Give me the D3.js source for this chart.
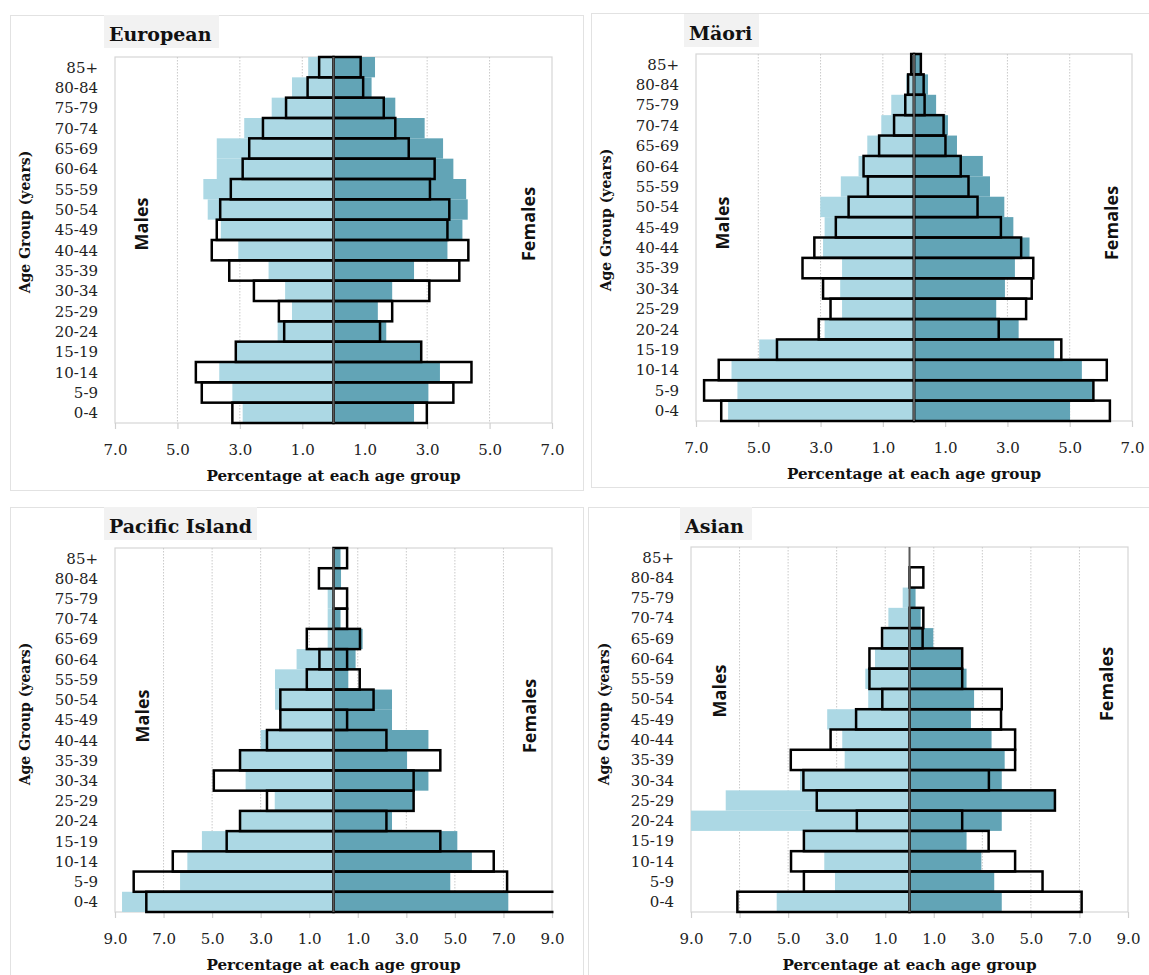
<!DOCTYPE html>
<html>
<head>
<meta charset="utf-8">
<script src="https://cdn.jsdelivr.net/npm/d3@7"></script>
<style>
  body { margin: 0; background: #fff; }
  svg { display: block; }
</style>
</head>
<body>
<svg id="chart" width="1149" height="975"></svg>
<script>
// Age groups, youngest first
const ageGroups = ["0-4","5-9","10-14","15-19","20-24","25-29","30-34","35-39","40-44",
                   "45-49","50-54","55-59","60-64","65-69","70-74","75-79","80-84","85+"];

// Percentage of each population in each age group.
// "Fill" series are drawn as shaded bars, "Outline" series as open black boxes.
const europeanMaleFill      = [2.91,3.24,3.66,3.10,1.79,1.33,1.55,2.08,3.05,3.61,4.03,4.17,3.74,3.74,2.86,1.98,1.33,0.81];
const europeanMaleOutline   = [3.24,4.22,4.41,3.13,1.58,1.75,2.55,3.34,3.90,3.74,3.63,3.29,2.91,2.70,2.26,1.52,0.83,0.46];
const europeanFemaleFill    = [2.58,3.04,3.41,2.79,1.69,1.42,1.88,2.58,3.65,4.13,4.30,4.25,3.84,3.51,2.92,1.98,1.22,1.33];
const europeanFemaleOutline = [2.99,3.84,4.42,2.81,1.49,1.88,3.07,4.03,4.32,3.65,3.71,3.09,3.24,2.41,1.98,1.61,0.95,0.87];

const maoriMaleFill      = [5.97,5.67,5.86,4.97,2.87,2.31,2.37,2.31,2.92,2.87,3.01,2.35,1.78,1.50,1.05,0.73,0.25,0.10];
const maoriMaleOutline   = [6.19,6.74,6.27,4.40,3.06,2.68,2.92,3.58,3.20,2.51,2.10,1.48,1.62,1.12,0.64,0.28,0.19,0.09];
const maoriFemaleFill    = [5.01,5.74,5.39,4.50,3.36,2.64,2.92,3.24,3.71,3.19,2.90,2.44,2.21,1.38,1.09,0.71,0.45,0.20];
const maoriFemaleOutline = [6.29,5.76,6.19,4.73,2.72,3.60,3.78,3.83,3.44,2.79,2.04,1.75,1.50,1.01,0.95,0.34,0.31,0.22];

const pacificMaleFill      = [8.71,6.32,6.02,5.42,3.83,2.42,3.62,3.83,3.00,2.17,2.41,2.41,1.52,0.24,0.24,0.24,0.00,0.00];
const pacificMaleOutline   = [7.71,8.23,6.62,4.40,3.85,2.74,4.93,3.85,2.74,2.19,2.19,1.10,0.58,1.10,0.00,0.00,0.60,0.00];
const pacificFemaleFill    = [7.20,4.81,5.70,5.10,2.41,3.28,3.91,3.03,3.91,2.41,2.41,0.61,0.91,1.20,0.29,0.00,0.31,0.29];
const pacificFemaleOutline = [9.30,7.15,6.60,4.40,2.18,3.30,3.30,4.40,2.18,0.56,1.65,1.08,0.56,1.09,0.56,0.56,0.00,0.56];

const asianMaleFill      = [5.47,3.07,3.51,4.33,9.50,7.57,4.51,2.67,2.77,3.39,1.70,1.82,1.42,1.08,0.87,0.28,0.00,0.00];
const asianMaleOutline   = [7.09,4.35,4.88,4.35,2.17,3.82,4.37,4.89,3.25,2.20,1.12,1.65,1.65,1.13,0.00,0.00,0.00,0.00];
const asianFemaleFill    = [3.80,3.49,2.96,2.35,3.80,5.97,3.80,3.92,3.38,2.53,2.66,2.35,2.15,0.98,0.46,0.25,0.00,0.00];
const asianFemaleOutline = [7.09,5.48,4.35,3.26,2.17,5.99,3.27,4.35,4.35,3.77,3.80,2.17,2.17,0.54,0.57,0.00,0.57,0.00];

const panels = [
  { title: "European", maleFill: europeanMaleFill, maleOutline: europeanMaleOutline,
    femaleFill: europeanFemaleFill, femaleOutline: europeanFemaleOutline, xMax: 7,
    card: [10.5, 15.5, 573, 475], titleBox: [104, 15, 115, 33],
    plot: { x0: 115, x1: 552, y0: 57, y1: 423 },
    yTitle: [25, 222], males: [141, 224], females: [528, 224] },
  { title: "Mäori", maleFill: maoriMaleFill, maleOutline: maoriMaleOutline,
    femaleFill: maoriFemaleFill, femaleOutline: maoriFemaleOutline, xMax: 7,
    card: [591.5, 13.5, 570, 474], titleBox: [684, 14, 75, 33],
    plot: { x0: 696, x1: 1132, y0: 54, y1: 421 },
    yTitle: [606, 220], males: [722, 223], females: [1111, 223] },
  { title: "Pacific Island", maleFill: pacificMaleFill, maleOutline: pacificMaleOutline,
    femaleFill: pacificFemaleFill, femaleOutline: pacificFemaleOutline, xMax: 9,
    card: [10.5, 507.5, 573, 480], titleBox: [104, 507, 153, 33],
    plot: { x0: 115, x1: 552, y0: 548, y1: 912 },
    yTitle: [25, 714], males: [142, 716], females: [529, 716] },
  { title: "Asian", maleFill: asianMaleFill, maleOutline: asianMaleOutline,
    femaleFill: asianFemaleFill, femaleOutline: asianFemaleOutline, xMax: 9,
    card: [588.5, 507.5, 575, 480], titleBox: [680, 507, 72, 33],
    plot: { x0: 691, x1: 1128, y0: 547, y1: 912 },
    yTitle: [604, 714], males: [719, 691], females: [1106, 684] }
];

const MALE_COLOR = "#acd8e4";
const FEMALE_COLOR = "#62a4b6";
const SERIF = "'DejaVu Serif', serif";
const SANS = "'Open Sans', sans-serif";

const svg = d3.select("#chart");

panels.forEach((p, pi) => {
  const g = svg.append("g");
  const { x0, x1, y0, y1 } = p.plot;

  // card
  g.append("rect")
    .attr("x", p.card[0]).attr("y", p.card[1])
    .attr("width", p.card[2]).attr("height", p.card[3])
    .attr("fill", "#fff").attr("stroke", "#e2e2e2").attr("stroke-width", 1);

  // title tab
  g.append("rect")
    .attr("x", p.titleBox[0]).attr("y", p.titleBox[1])
    .attr("width", p.titleBox[2]).attr("height", p.titleBox[3])
    .attr("fill", "#f2f2f2");
  g.append("text")
    .attr("x", p.titleBox[0] + 5).attr("y", p.titleBox[1] + 25.5)
    .attr("font-family", SERIF).attr("font-weight", "bold").attr("font-size", 19)
    .attr("fill", "#111").text(p.title);

  const x = d3.scaleLinear().domain([-p.xMax, p.xMax]).range([x0, x1]);
  const y = d3.scaleBand().domain(ageGroups.slice().reverse()).range([y0, y1]).padding(0);
  const ticks = d3.range(-p.xMax, p.xMax + 0.001, 2);

  // plot frame
  g.append("rect")
    .attr("x", x0).attr("y", y0).attr("width", x1 - x0).attr("height", y1 - y0)
    .attr("fill", "none").attr("stroke", "#d6d6d6").attr("stroke-width", 1.2);

  // dotted vertical gridlines
  g.append("g").selectAll("line")
    .data(ticks.filter(t => Math.abs(t) < p.xMax))
    .join("line")
    .attr("x1", d => x(d)).attr("x2", d => x(d))
    .attr("y1", y0).attr("y2", y1)
    .attr("stroke", "#c9c9c9").attr("stroke-width", 1)
    .attr("stroke-dasharray", "1.5,1.5");

  // bottom axis: tick marks and absolute-value labels
  const xAxis = d3.axisBottom(x).tickValues(ticks)
    .tickSize(6).tickSizeOuter(0)
    .tickFormat(d => Math.abs(d).toFixed(1));
  const ax = g.append("g").attr("transform", `translate(0,${y1})`).call(xAxis);
  ax.select(".domain").remove();
  ax.selectAll(".tick line").attr("stroke", "#d0d0d0").attr("stroke-width", 1.2);
  ax.selectAll(".tick text")
    .attr("y", 22).attr("dy", 0)
    .attr("dominant-baseline", "hanging")
    .attr("font-family", SERIF).attr("font-size", 15).attr("fill", "#222");
  ax.selectAll(".tick text").attr("dominant-baseline", null).attr("y", 32);

  // category labels on the left
  const yAxis = d3.axisLeft(y).tickSize(0).tickPadding(0);
  const ay = g.append("g").attr("transform", `translate(${x0 - 17},0)`).call(yAxis);
  ay.select(".domain").remove();
  ay.selectAll(".tick text")
    .attr("font-family", SERIF).attr("font-size", 15).attr("fill", "#222")
    .attr("dy", "0.36em");

  // bars, clipped to the plot area
  const clipId = "clip" + pi;
  svg.append("clipPath").attr("id", clipId)
    .append("rect").attr("x", x0).attr("y", y0 - 3)
    .attr("width", x1 - x0 + 1.5).attr("height", y1 - y0 + 6);
  const bars = g.append("g").attr("clip-path", `url(#${clipId})`);

  const rows = (vals) => ageGroups.map((a, i) => ({ age: a, v: vals[i] }));

  bars.append("g").selectAll("rect").data(rows(p.maleFill).filter(d => d.v > 0)).join("rect")
    .attr("x", d => x(-d.v)).attr("width", d => x(0) - x(-d.v))
    .attr("y", d => y(d.age)).attr("height", y.bandwidth())
    .attr("fill", MALE_COLOR);
  bars.append("g").selectAll("rect").data(rows(p.femaleFill).filter(d => d.v > 0)).join("rect")
    .attr("x", x(0)).attr("width", d => x(d.v) - x(0))
    .attr("y", d => y(d.age)).attr("height", y.bandwidth())
    .attr("fill", FEMALE_COLOR);

  const outlineStyle = sel => sel.attr("fill", "none").attr("stroke", "#000")
    .attr("stroke-width", 2.5).attr("stroke-linejoin", "miter");
  bars.append("g").selectAll("rect").data(rows(p.maleOutline).filter(d => d.v > 0)).join("rect")
    .attr("x", d => x(-d.v)).attr("width", d => x(0) - x(-d.v))
    .attr("y", d => y(d.age)).attr("height", y.bandwidth())
    .call(outlineStyle);
  bars.append("g").selectAll("rect").data(rows(p.femaleOutline).filter(d => d.v > 0)).join("rect")
    .attr("x", x(0)).attr("width", d => x(d.v) - x(0))
    .attr("y", d => y(d.age)).attr("height", y.bandwidth())
    .call(outlineStyle);

  // vertical axis at zero
  g.append("line")
    .attr("x1", x(0)).attr("x2", x(0)).attr("y1", y0).attr("y2", y1)
    .attr("stroke", "#5a5a5a").attr("stroke-width", 2);

  // axis titles
  g.append("text")
    .attr("x", (x0 + x1) / 2).attr("y", y1 + 58)
    .attr("text-anchor", "middle")
    .attr("font-family", SERIF).attr("font-weight", "bold").attr("font-size", 15.2)
    .attr("fill", "#111").text("Percentage at each age group");
  g.append("text")
    .attr("transform", `translate(${p.yTitle[0]},${p.yTitle[1]}) rotate(-90)`)
    .attr("text-anchor", "middle").attr("dominant-baseline", "central")
    .attr("font-family", SERIF).attr("font-weight", "bold").attr("font-size", 14)
    .attr("fill", "#111").text("Age Group (years)");

  // sex labels
  [["Males", p.males], ["Females", p.females]].forEach(([label, pos]) => {
    g.append("text")
      .attr("transform", `translate(${pos[0]},${pos[1]}) rotate(-90)`)
      .attr("text-anchor", "middle").attr("dominant-baseline", "central")
      .attr("font-family", SANS).attr("font-weight", "bold").attr("font-size", 18)
      .attr("fill", "#111").text(label);
  });
});
</script>
</body>
</html>
